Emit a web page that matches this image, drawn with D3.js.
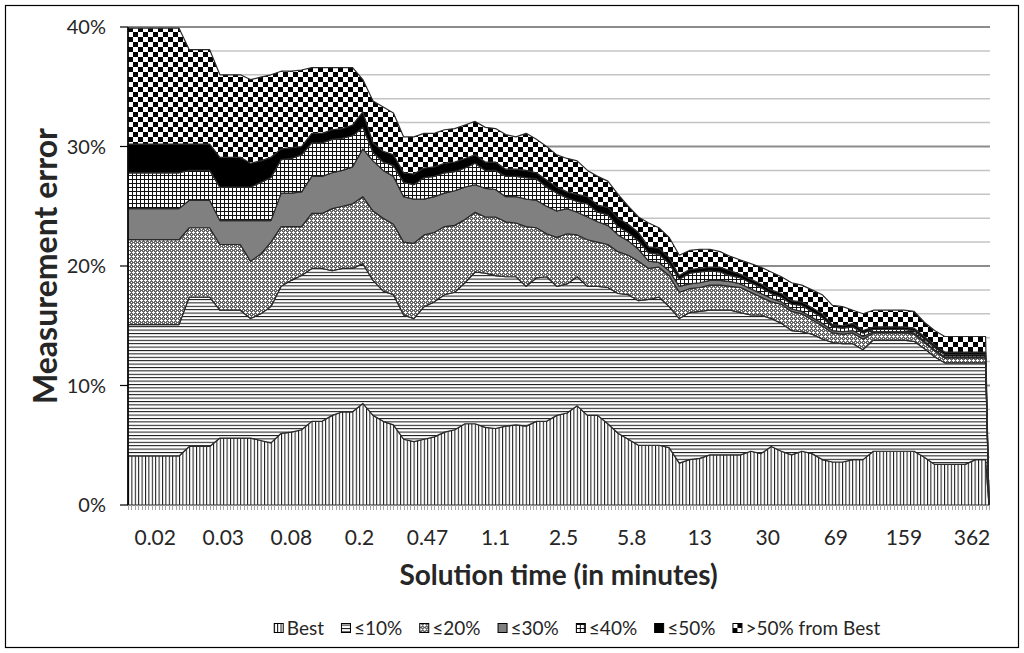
<!DOCTYPE html>
<html lang="en">
<head>
<meta charset="UTF-8">
<script src="https://d3js.org/d3.v7.min.js"></script>
<title>Measurement error vs solution time</title>
<style>
  body { margin: 0; background: #fff; }
  text { font-family: Lato, "Open Sans", sans-serif; fill: #262626; }
</style>
</head>
<body>
<svg class="chart"></svg>
<script>
// series values (percent), one value per sampled category, last point is the drop to zero
var best = [4.1, 4.1, 4.1, 4.1, 4.1, 4.1, 4.9, 4.9, 4.9, 5.6, 5.6, 5.6,
    5.6, 5.4, 5.2, 6.0, 6.1, 6.3, 7.0, 7.0, 7.5, 7.8, 7.8, 8.5, 7.5, 7.0, 6.7, 5.5, 5.3, 5.5,
    5.7, 6.1, 6.3, 6.8, 6.8, 6.5, 6.4, 6.6, 6.7, 6.6, 7.0, 7.0, 7.5, 7.7, 8.3, 7.5, 7.5, 6.8,
    6.0, 5.5, 5.0, 5.0, 5.0, 4.8, 3.5, 3.8, 3.9, 4.2, 4.2, 4.2, 4.2, 4.5, 4.3, 4.9, 4.5, 4.2,
    4.5, 4.3, 3.8, 3.6, 3.6, 3.8, 3.8, 4.5, 4.5, 4.5, 4.5, 4.5, 4.0, 3.4, 3.4, 3.4, 3.4, 3.8, 3.8, 0];
var le10 = [11.0, 11.0, 11.0, 11.0, 11.0, 11.0, 12.5, 12.5, 12.5, 10.7, 10.7, 10.7,
    10.0, 10.6, 11.4, 12.3, 12.7, 12.9, 12.8, 12.8, 12.1, 12.0, 12.0, 11.7, 11.3, 10.9, 10.9, 10.4, 10.3, 11.1,
    11.3, 11.5, 11.5, 11.8, 12.7, 12.9, 12.8, 12.5, 12.4, 11.7, 12.0, 12.1, 10.8, 10.8, 10.8, 10.8, 10.8, 11.4,
    11.7, 12.1, 12.1, 12.2, 12.4, 11.8, 12.1, 12.3, 12.3, 12.1, 12.1, 12.1, 11.9, 11.4, 11.6, 10.7, 10.7, 10.4,
    10.0, 10.0, 10.1, 10.0, 9.9, 9.7, 9.2, 9.3, 9.3, 9.3, 9.3, 9.2, 9.1, 9.0, 8.5, 8.5, 8.5, 8.1, 8.1, 0];
var le20 = [7.1, 7.1, 7.1, 7.1, 7.1, 7.1, 5.8, 5.8, 5.8, 5.5, 5.5, 5.5,
    4.8, 5.0, 5.4, 5.0, 4.5, 4.1, 4.6, 4.6, 5.2, 5.2, 5.4, 5.6, 5.8, 6.1, 5.9, 6.1, 6.3, 6.0,
    5.8, 5.7, 5.6, 5.3, 5.0, 4.7, 4.9, 4.6, 4.5, 5.0, 4.2, 3.6, 4.1, 4.2, 3.5, 3.9, 3.7, 3.6,
    3.5, 3.3, 3.3, 2.6, 2.5, 2.6, 2.2, 2.0, 2.0, 2.1, 2.1, 2.0, 2.1, 1.9, 1.5, 1.4, 1.6, 1.6,
    1.5, 1.2, 1.1, 0.8, 0.8, 0.9, 0.9, 0.6, 0.6, 0.6, 0.6, 0.6, 0.5, 0.5, 0.4, 0.4, 0.4, 0.4, 0.4, 0];
var le30 = [2.6, 2.6, 2.6, 2.6, 2.6, 2.6, 2.3, 2.3, 2.3, 2.0, 2.0, 2.0,
    3.4, 2.8, 1.8, 2.8, 2.8, 2.9, 3.1, 3.1, 3.0, 3.0, 3.1, 4.0, 4.2, 4.0, 4.0, 3.8, 3.7, 3.0,
    3.0, 2.8, 2.9, 2.7, 2.3, 2.4, 2.3, 2.1, 2.2, 2.3, 2.3, 2.3, 2.2, 2.1, 1.9, 1.9, 1.7, 1.6,
    1.4, 1.2, 1.0, 0.6, 0.4, 0.4, 0.5, 0.4, 0.4, 0.4, 0.4, 0.4, 0.3, 0.3, 0.3, 0.3, 0.2, 0.2,
    0.2, 0.2, 0.2, 0.2, 0.2, 0.2, 0.2, 0.1, 0.1, 0.1, 0.1, 0.1, 0.1, 0.1, 0.1, 0.1, 0.1, 0.1, 0.1, 0];
var le40 = [3.0, 3.0, 3.0, 3.0, 3.0, 3.0, 2.5, 2.5, 2.5, 2.8, 2.8, 2.8,
    2.8, 3.2, 3.6, 2.8, 2.9, 3.1, 2.8, 2.8, 2.8, 2.7, 2.6, 1.8, 0.7, 0.7, 0.9, 1.2, 1.2, 1.8,
    1.7, 1.7, 1.6, 1.6, 1.8, 1.5, 1.6, 1.7, 1.7, 1.8, 1.8, 1.6, 1.5, 0.9, 0.9, 1.1, 0.8, 0.9,
    0.7, 0.7, 0.7, 0.7, 0.7, 0.6, 0.6, 0.9, 0.9, 0.8, 0.7, 0.5, 0.5, 0.5, 0.5, 0.4, 0.4, 0.4,
    0.5, 0.5, 0.5, 0.3, 0.3, 0.3, 0.3, 0.2, 0.2, 0.2, 0.2, 0.2, 0.2, 0.2, 0.2, 0.2, 0.2, 0.2, 0.2, 0];
var le50 = [2.4, 2.4, 2.4, 2.4, 2.4, 2.4, 2.2, 2.2, 2.2, 2.5, 2.5, 2.5,
    2.0, 1.8, 1.7, 0.9, 0.9, 0.7, 0.8, 0.8, 0.8, 0.8, 0.9, 1.3, 0.8, 0.9, 0.9, 0.8, 0.9, 0.8,
    0.8, 0.8, 0.8, 0.8, 0.7, 0.7, 0.7, 0.6, 0.6, 0.6, 0.5, 0.6, 0.5, 0.5, 0.6, 0.6, 0.6, 0.6,
    0.7, 0.7, 0.7, 0.5, 0.5, 0.5, 0.3, 0.3, 0.3, 0.3, 0.4, 0.4, 0.3, 0.3, 0.3, 0.3, 0.3, 0.3,
    0.3, 0.3, 0.3, 0.2, 0.2, 0.3, 0.2, 0.2, 0.2, 0.2, 0.2, 0.2, 0.2, 0.2, 0.2, 0.2, 0.2, 0.2, 0.2, 0];
var gt50 = [9.7, 9.7, 9.7, 9.7, 9.7, 9.7, 7.9, 7.9, 7.9, 6.9, 6.9, 6.9,
    7.0, 7.0, 6.9, 6.5, 6.4, 6.4, 5.5, 5.5, 5.2, 5.1, 4.8, 2.7, 3.5, 3.7, 3.5, 3.0, 3.1, 2.9,
    2.8, 2.8, 2.8, 2.8, 2.8, 2.9, 2.8, 2.9, 2.7, 3.1, 2.8, 2.8, 2.7, 2.8, 2.8, 2.2, 2.4, 2.2,
    2.0, 1.5, 1.3, 2.0, 1.7, 1.7, 1.7, 1.6, 1.6, 1.5, 1.3, 1.2, 1.2, 1.3, 1.4, 1.5, 1.4, 1.5,
    1.4, 1.5, 1.6, 1.6, 1.6, 1.1, 1.4, 1.4, 1.4, 1.4, 1.4, 1.4, 1.2, 1.2, 1.3, 1.3, 1.3, 1.3, 1.3, 0];

var seriesKeys = ["best", "le10", "le20", "le30", "le40", "le50", "gt50"];
var seriesNames = ["Best", "\u226410%", "\u226420%", "\u226430%", "\u226440%", "\u226450%", ">50% from Best"];
var xLabels = ["0.02", "0.03", "0.08", "0.2", "0.47", "1.1", "2.5", "5.8", "13", "30", "69", "159", "362"];
var yTicks = [0, 10, 20, 30, 40];

// category axis: 254 categories, data sampled every 3rd one, labels every 20th
var nCats = 254;
var pointCats = d3.range(0, 253, 3).concat([253]);
var labelCats = d3.range(8, 249, 20);

var margin = { left: 128, top: 27 };
var width = 861, height = 478;

var svg = d3.select(".chart")
    .attr("width", 1024)
    .attr("height", 653);

svg.append("rect")
    .attr("x", 5.5).attr("y", 5.5)
    .attr("width", 1013).attr("height", 642)
    .attr("fill", "#fff")
    .attr("stroke", "#000")
    .attr("stroke-width", 1.2);

// fill patterns
var defs = svg.append("defs");

var p = defs.append("pattern").attr("id", "pBest").attr("patternUnits", "userSpaceOnUse")
    .attr("width", 3.4).attr("height", 4);
p.append("rect").attr("width", 3.4).attr("height", 4).attr("fill", "#fff");
p.append("rect").attr("width", 1).attr("height", 4).attr("fill", "#111");

p = defs.append("pattern").attr("id", "p10").attr("patternUnits", "userSpaceOnUse")
    .attr("width", 4).attr("height", 3.4);
p.append("rect").attr("width", 4).attr("height", 3.4).attr("fill", "#fff");
p.append("rect").attr("width", 4).attr("height", 1).attr("fill", "#111");

p = defs.append("pattern").attr("id", "p20").attr("patternUnits", "userSpaceOnUse")
    .attr("width", 4).attr("height", 4);
p.append("rect").attr("width", 4).attr("height", 4).attr("fill", "#666");
[[1, 0], [0, 1], [1, 1], [2, 1], [1, 2], [3, 3]].forEach(function(c) {
    p.append("rect").attr("x", c[0]).attr("y", c[1]).attr("width", 1).attr("height", 1).attr("fill", "#fff");
});

p = defs.append("pattern").attr("id", "p30").attr("patternUnits", "userSpaceOnUse")
    .attr("width", 4).attr("height", 4);
p.append("rect").attr("width", 4).attr("height", 4).attr("fill", "#808080");

p = defs.append("pattern").attr("id", "p40").attr("patternUnits", "userSpaceOnUse")
    .attr("width", 4).attr("height", 4);
p.append("rect").attr("width", 4).attr("height", 4).attr("fill", "#fff");
p.append("rect").attr("width", 4).attr("height", 1).attr("fill", "#111");
p.append("rect").attr("width", 1).attr("height", 4).attr("fill", "#111");

p = defs.append("pattern").attr("id", "p50").attr("patternUnits", "userSpaceOnUse")
    .attr("width", 4).attr("height", 4);
p.append("rect").attr("width", 4).attr("height", 4).attr("fill", "#000");

p = defs.append("pattern").attr("id", "pGt").attr("patternUnits", "userSpaceOnUse")
    .attr("width", 10).attr("height", 10);
p.append("rect").attr("width", 10).attr("height", 10).attr("fill", "#fff");
p.append("rect").attr("width", 5).attr("height", 5).attr("fill", "#000");
p.append("rect").attr("x", 5).attr("y", 5).attr("width", 5).attr("height", 5).attr("fill", "#000");

var fills = ["url(#pBest)", "url(#p10)", "url(#p20)", "url(#p30)", "url(#p40)", "url(#p50)", "url(#pGt)"];

var g = svg.append("g").attr("transform", "translate(" + margin.left + "," + margin.top + ")");

var x = d3.scaleLinear().domain([0, nCats - 1]).range([0, width]);
var y = d3.scaleLinear().domain([0, 40]).range([height, 0]);

// gridlines every 2%, darker every 10%
g.append("g").selectAll("line")
    .data(d3.range(2, 41, 2))
    .enter().append("line")
    .attr("x1", 0).attr("x2", width + 1)
    .attr("y1", function(d) { return y(d); })
    .attr("y2", function(d) { return y(d); })
    .attr("stroke", function(d) { return d % 10 == 0 ? "#8c8c8c" : "#c4c4c4"; })
    .attr("stroke-width", function(d) { return d % 10 == 0 ? 2 : 1.5; });

var table = pointCats.map(function(c, i) {
    return { cat: c, best: best[i], le10: le10[i], le20: le20[i], le30: le30[i],
        le40: le40[i], le50: le50[i], gt50: gt50[i] };
});

var stacked = d3.stack().keys(seriesKeys)(table);

var area = d3.area()
    .x(function(d) { return x(d.data.cat); })
    .y0(function(d) { return y(d[0]); })
    .y1(function(d) { return y(d[1]); });

g.append("g").selectAll("path")
    .data(stacked)
    .enter().append("path")
    .attr("d", area)
    .attr("fill", function(d, i) { return fills[i]; })
    .attr("stroke", "#2a2a2a")
    .attr("stroke-width", 1.2)
    .attr("stroke-linejoin", "round");

// x axis: a small tick on every category
g.append("line")
    .attr("x1", 0).attr("x2", width)
    .attr("y1", height + 0.5).attr("y2", height + 0.5)
    .attr("stroke", "#868686");

g.append("g").selectAll("line")
    .data(d3.range(0, nCats))
    .enter().append("line")
    .attr("x1", function(d) { return Math.round(x(d)) + 0.5; })
    .attr("x2", function(d) { return Math.round(x(d)) + 0.5; })
    .attr("y1", height).attr("y2", height + 5)
    .attr("stroke", "#a6a6a6");

g.append("g").selectAll("text")
    .data(labelCats)
    .enter().append("text")
    .attr("x", function(d) { return x(d); })
    .attr("y", height + 40)
    .attr("text-anchor", "middle")
    .attr("font-size", 21)
    .text(function(d, i) { return xLabels[i]; });

// y axis
g.append("line")
    .attr("x1", 0).attr("x2", 0)
    .attr("y1", 0).attr("y2", height)
    .attr("stroke", "#000")
    .attr("stroke-width", 1.5);

g.append("g").selectAll("line")
    .data(yTicks)
    .enter().append("line")
    .attr("x1", -8).attr("x2", 0)
    .attr("y1", function(d) { return y(d); })
    .attr("y2", function(d) { return y(d); })
    .attr("stroke", "#000")
    .attr("stroke-width", 1.2);

g.append("g").selectAll("text")
    .data(yTicks)
    .enter().append("text")
    .attr("x", -22)
    .attr("y", function(d) { return y(d) + 7; })
    .attr("text-anchor", "end")
    .attr("font-size", 20)
    .text(function(d) { return d + "%"; });

// axis titles
svg.append("text")
    .attr("x", margin.left + width / 2)
    .attr("y", 585)
    .attr("text-anchor", "middle")
    .attr("font-size", 28)
    .attr("font-weight", "bold")
    .text("Solution time (in minutes)");

svg.append("text")
    .attr("transform", "translate(57," + (margin.top + height / 2) + ") rotate(-90)")
    .attr("text-anchor", "middle")
    .attr("font-size", 32)
    .attr("font-weight", "bold")
    .text("Measurement error");

// legend
var legend = svg.append("g");
var lx = 0;
seriesNames.forEach(function(name, i) {
    var item = legend.append("g").attr("transform", "translate(" + lx + ",0)");
    item.append("rect")
        .attr("x", 0.5).attr("y", -4.5)
        .attr("width", 9).attr("height", 9)
        .attr("fill", fills[i])
        .attr("stroke", "#000");
    var t = item.append("text")
        .attr("x", 13)
        .attr("y", 7)
        .attr("font-size", 19)
        .text(name);
    lx += 13 + t.node().getComputedTextLength() + 17;
});
lx -= 17;
legend.attr("transform", "translate(" + (577 - lx / 2) + ",628)");
</script>
</body>
</html>
